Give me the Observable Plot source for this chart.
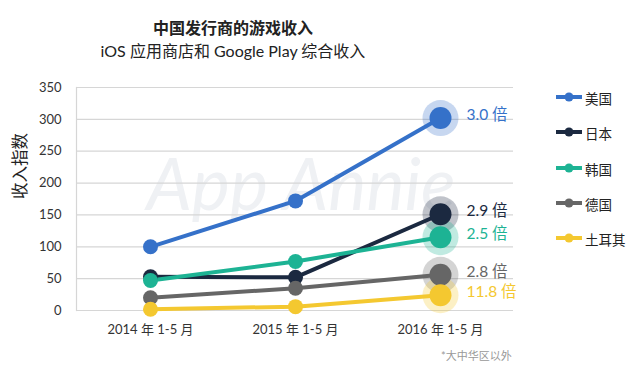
<!DOCTYPE html>
<html><head><meta charset="utf-8">
<script src="https://cdn.jsdelivr.net/npm/d3@7"></script>
<script src="https://cdn.jsdelivr.net/npm/@observablehq/plot@0.6"></script>
<style>
body{margin:0;background:#fff;font-family:Lato,"Noto Sans CJK SC",sans-serif;color:#222;}
#wrap{position:relative;width:640px;height:365px;overflow:hidden;}
#title{position:absolute;left:0;width:466px;top:15px;text-align:center;font-weight:bold;font-size:16px;color:#222;}
#subtitle{position:absolute;left:0;width:466px;top:38px;text-align:center;font-size:16px;color:#222;}
#chart{position:absolute;left:0;top:70px;}
#legend{position:absolute;left:555px;top:88px;font-size:13.5px;color:#222;}
.item{height:35.3px;display:flex;align-items:flex-start;}
.item svg{margin-right:2px;margin-top:2px}
#note{position:absolute;left:441px;top:347px;font-size:11px;color:#999;}
</style></head>
<body><div id="wrap">
<div id="title"></div><div id="subtitle"></div>
<div id="chart"></div><div id="legend"></div><div id="note"></div>
</div>
<script>
const titleText = "中国发行商的游戏收入";
const subtitleText = "iOS 应用商店和 Google Play 综合收入";
const yTitle = "收入指数";
const noteText = "*大中华区以外";
const watermark = "App Annie";
const periods = ["2014 年 1-5 月", "2015 年 1-5 月", "2016 年 1-5 月"];
const countries = ["美国", "日本", "韩国", "德国", "土耳其"];
const colors = ["#3571c9", "#1b2940", "#1db394", "#666666", "#f4c830"];
const usa = [100, 172, 302];
const japan = [53, 52, 151];
const korea = [47, 77, 115];
const germany = [20, 35, 56];
const turkey = [2, 6, 24];
const multiples = ["3.0 倍", "2.9 倍", "2.5 倍", "2.8 倍", "11.8 倍"];
const yTicks = [0, 50, 100, 150, 200, 250, 300, 350];

const seriesVals = [usa, japan, korea, germany, turkey];
const data = [];
countries.forEach((c, i) => periods.forEach((p, j) => data.push({country: c, period: p, value: seriesVals[i][j], idx: j})));
const last = data.filter(d => d.idx === 2).map((d, i) => ({...d, label: multiples[i]}));
const early = data.filter(d => d.idx < 2);

document.getElementById("title").textContent = titleText;
document.getElementById("subtitle").textContent = subtitleText;
document.getElementById("note").textContent = noteText;

const color = {domain: countries, range: colors};

const plot = Plot.plot({
  width: 640, height: 275,
  marginLeft: 76, marginRight: 127, marginTop: 17, marginBottom: 35,
  style: {fontFamily: 'Lato,"Noto Sans CJK SC",sans-serif', fontSize: "13px", color: "#333", background: "transparent"},
  x: {type: "point", domain: periods, padding: 0.5, label: null},
  y: {domain: [0, 350], label: null},
  color: color,
  marks: [
    Plot.text([watermark], {frameAnchor: "middle", dx: 6, dy: -12, text: d => d, fontSize: 72, fontStyle: "italic", fill: "#eff1f4", fontFamily: "Lato"}),
    Plot.ruleY(yTicks, {stroke: "#d6d6d6", strokeWidth: 1.2}),
    Plot.frame({anchor: "left", stroke: "#d6d6d6", strokeWidth: 1.2}),
    Plot.axisY({ticks: yTicks, tickSize: 0, tickPadding: 15, fontSize: 13, label: null}),
    Plot.axisX({tickSize: 0, tickPadding: 14, fontSize: 13, label: null}),
    Plot.text([yTitle], {frameAnchor: "left", dx: -56, rotate: -90, text: d => d, fontSize: 16.5, fill: "#222"}),
    Plot.dot(last, {x: "period", y: "value", fill: "country", r: 18, fillOpacity: 0.28}),
    Plot.line(data, {x: "period", y: "value", stroke: "country", z: "country", strokeWidth: 4}),
    Plot.dot(early, {x: "period", y: "value", fill: "country", r: 7.5}),
    Plot.dot(last, {x: "period", y: "value", fill: "country", r: 11}),
    Plot.text(last, {x: "period", y: "value", text: "label", fill: "country", textAnchor: "start", dx: 26, dy: -3, fontSize: 15.5})
  ]
});
document.getElementById("chart").appendChild(plot);

const lg = document.getElementById("legend");
countries.forEach((c, i) => {
  const item = document.createElement("div");
  item.className = "item";
  item.innerHTML = `<svg width="28" height="14"><line x1="1" y1="7" x2="27" y2="7" stroke="${colors[i]}" stroke-width="4"/><circle cx="14" cy="7" r="4.5" fill="${colors[i]}"/></svg><span>${c}</span>`;
  lg.appendChild(item);
});
</script></body></html>
